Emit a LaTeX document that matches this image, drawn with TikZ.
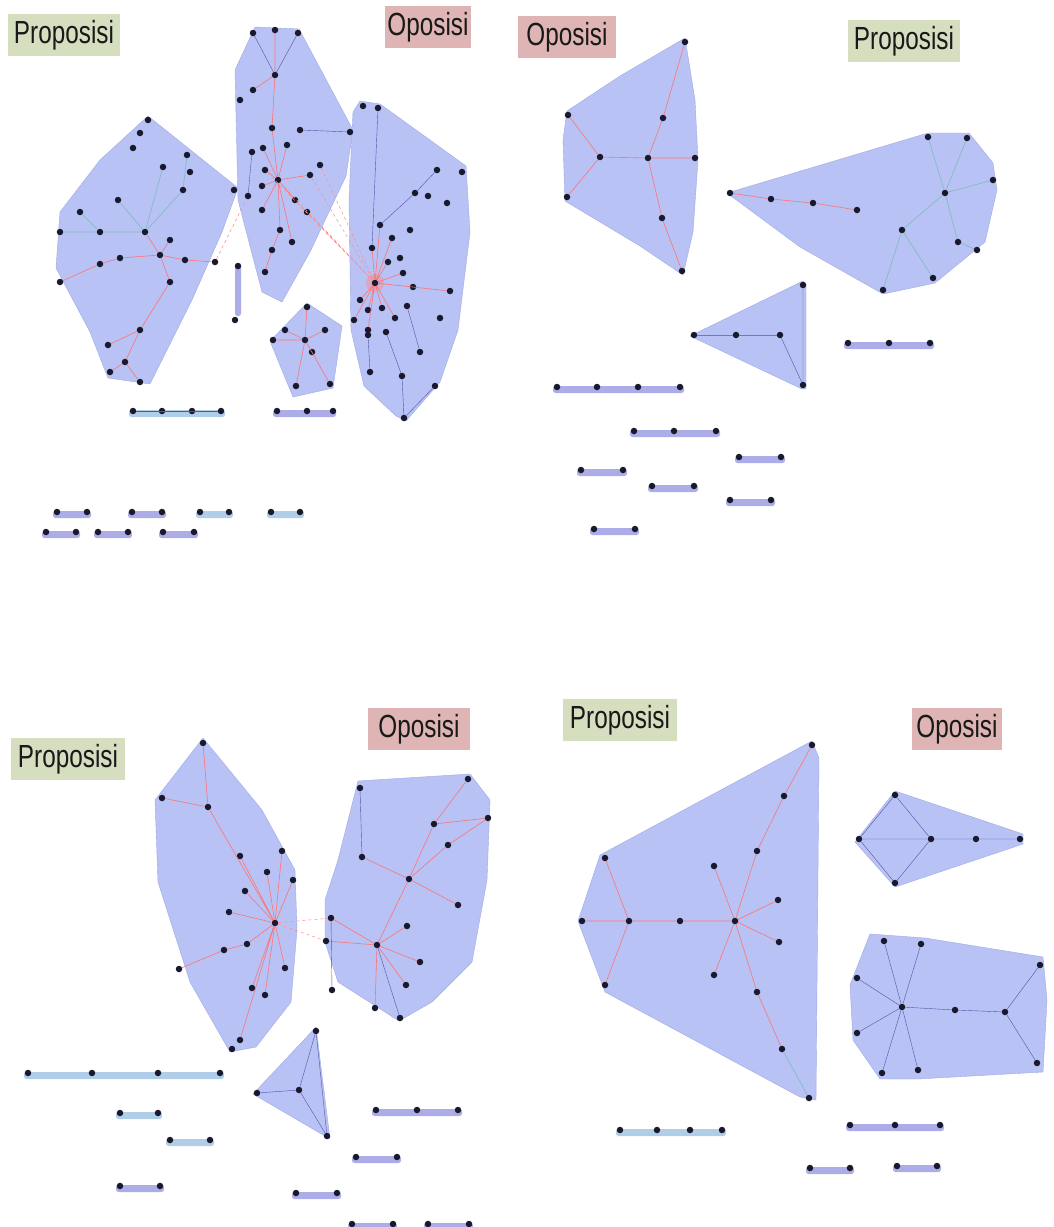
\documentclass[tikz,border=0pt]{standalone}
\usepackage{fontspec}
\setmainfont{Liberation Sans}
\usetikzlibrary{calc}
\definecolor{hullc}{RGB}{184,194,244}
\definecolor{hulld}{RGB}{160,170,230}
\definecolor{barP}{RGB}{172,172,232}
\definecolor{barC}{RGB}{176,206,232}
\definecolor{tgreen}{RGB}{214,222,192}
\definecolor{tpink}{RGB}{222,180,180}
\definecolor{dotc}{RGB}{25,25,45}
\newcommand\nd[3]{\node[dot] (#1) at (#2,#3) {};}
\newcommand\ttl[4]{\node[titlebox,fill=#4,minimum width=#3] (#1) at #2 {\scalebox{0.76}[1]{\fontsize{32}{32}\selectfont #1}};}
\begin{document}
\begin{tikzpicture}[x=1pt,y=-1pt,
  dot/.style={circle,fill=dotc,inner sep=0pt,minimum size=6.5pt},
  hull/.style={fill=hullc,draw=hulld,line width=0.4pt,line join=round},
  ered/.style={draw=red!55!white,line width=0.6pt},
  edash/.style={draw=red!45!white,line width=0.5pt,dashed},
  egreen/.style={draw=teal!50!white,line width=0.7pt},
  egray/.style={draw=blue!35!gray,line width=0.4pt},
  titlebox/.style={inner sep=0pt,minimum height=42pt,text=black!90},
  pbar/.style={fill=barP,rounded corners=2.5pt},
  cbar/.style={fill=barC,rounded corners=2.5pt}]
\useasboundingbox (0,0) rectangle (1054,1227);
\fill[white] (0,0) rectangle (1054,1227);

% ================= Quadrant 1 =================
\fill[hull] (148,116) -- (238,188) -- (222,232) -- (192,300) -- (150,384) -- (108,378) -- (90,332) -- (56,268) -- (60,212) -- (100,160) -- cycle;
\fill[hull] (255,27) -- (299,29) -- (353,130) -- (346,176) -- (310,252) -- (282,302) -- (262,292) -- (238,200) -- (235,70) -- cycle;
\fill[hull] (360,101) -- (380,104) -- (466,166) -- (470,232) -- (458,330) -- (440,382) -- (406,421) -- (396,416) -- (364,386) -- (351,330) -- (349,200) -- (353,112) -- cycle;
\fill[hull] (307,303) -- (342,326) -- (333,388) -- (293,397) -- (270,341) -- cycle;
\fill[pbar] (235,264) rectangle (241,316);

% hull A nodes
\nd{a1}{148}{120}\nd{a2}{140}{133}\nd{a3}{133}{148}\nd{a4}{187}{155}
\nd{a5}{163}{167}\nd{a6}{190}{172}\nd{a7}{183}{190}\nd{a8}{234}{190}
\nd{a9}{118}{200}\nd{a10}{80}{212}\nd{a11}{60}{232}\nd{a12}{100}{232}
\nd{a13}{145}{232}\nd{a14}{170}{240}\nd{a15}{160}{255}\nd{a16}{185}{260}
\nd{a17}{215}{262}\nd{a18}{120}{258}\nd{a19}{100}{264}\nd{a20}{60}{282}
\nd{a21}{170}{282}\nd{a22}{140}{330}\nd{a23}{108}{345}\nd{a24}{125}{362}
\nd{a25}{110}{372}\nd{a26}{140}{382}
\draw[egreen] (a4)--(a7) (a7)--(a13) (a9)--(a13) (a13)--(a12) (a12)--(a11) (a5)--(a13) (a10)--(a12);
\draw[ered] (a13)--(a15) (a15)--(a16) (a16)--(a17) (a15)--(a21) (a21)--(a22) (a22)--(a23) (a22)--(a24) (a24)--(a25) (a24)--(a26) (a15)--(a18) (a18)--(a19) (a19)--(a20) (a14)--(a15);

% hull B nodes
\nd{b1}{275}{30}\nd{b2}{253}{33}\nd{b3}{298}{33}\nd{b4}{275}{75}
\nd{b5}{253}{90}\nd{b6}{240}{100}\nd{b7}{300}{130}\nd{b8}{272}{128}
\nd{b9}{263}{148}\nd{b10}{252}{152}\nd{b11}{287}{145}\nd{b12}{350}{132}
\nd{b13}{265}{170}\nd{b14}{278}{180}\nd{b15}{310}{175}\nd{b16}{320}{165}
\nd{b17}{262}{186}\nd{b18}{248}{196}\nd{b19}{262}{210}\nd{b20}{295}{200}
\nd{b21}{307}{212}\nd{b22}{280}{230}\nd{b23}{272}{250}\nd{b24}{265}{272}
\nd{b25}{292}{242}
\draw[ered] (b1)--(b4) (b4)--(b5) (b4)--(b8) (b8)--(b14) (b14)--(b13) (b14)--(b11) (b14)--(b15) (b14)--(b17) (b14)--(b19) (b14)--(b22) (b14)--(b25) (b22)--(b23) (b23)--(b24) (b14)--(b20) (b14)--(b9);
\draw[egray] (b2)--(b4) (b3)--(b4) (b7)--(b12) (b10)--(b18);

% hull C nodes
\nd{c1}{363}{106}\nd{c2}{378}{108}\nd{c3}{437}{170}\nd{c4}{462}{172}
\nd{c5}{415}{193}\nd{c6}{428}{196}\nd{c7}{447}{203}\nd{c8}{380}{225}
\nd{c9}{392}{238}\nd{c10}{410}{230}\nd{c11}{372}{248}\nd{c12}{388}{262}
\nd{c13}{400}{258}\fill[red!45,opacity=0.5] (375,283) circle (9);
\nd{c14}{375}{283}\nd{c15}{403}{273}\nd{c16}{413}{287}
\nd{c17}{450}{291}\nd{c18}{360}{300}\nd{c19}{368}{310}\nd{c20}{382}{308}
\nd{c21}{354}{320}\nd{c22}{368}{330}\nd{c23}{395}{318}\nd{c24}{407}{306}
\nd{c25}{440}{318}\nd{c26}{368}{335}\nd{c27}{386}{332}\nd{c28}{420}{352}
\nd{c29}{370}{372}\nd{c30}{402}{376}\nd{c31}{435}{386}\nd{c32}{404}{418}
\draw[ered] (c14)--(c8) (c14)--(c9) (c14)--(c11) (c14)--(c12) (c14)--(c15) (c14)--(c16) (c14)--(c18) (c14)--(c19) (c14)--(c21) (c14)--(c22) (c14)--(c23) (c14)--(c17) (c14)--(c20);
\draw[egray] (c2)--(c11) (c5)--(c8) (c26)--(c29) (c27)--(c30) (c30)--(c32) (c31)--(c32) (c3)--(c5) (c24)--(c28);
\draw[edash] (b14)--(c14) (b15)--(c14) (b16)--(c14) (b20)--(c14) (b21)--(c14) (b13)--(c14);
\draw[edash] (a17)--(b18);

% hull D nodes
\nd{d1}{307}{307}\nd{d2}{285}{330}\nd{d3}{305}{340}\nd{d4}{325}{330}
\nd{d5}{273}{340}\nd{d6}{312}{352}\nd{d7}{296}{386}\nd{d8}{330}{384}
\draw[ered] (d3)--(d1) (d3)--(d2) (d3)--(d4) (d3)--(d5) (d3)--(d6) (d3)--(d7) (d3)--(d8);
\nd{v1}{238}{266}\nd{v2}{235}{320}

% bars Q1
\fill[cbar] (129,410) rectangle (225,417);
\nd{q1}{133}{411}\nd{q2}{162}{411}\nd{q3}{192}{411}\nd{q4}{221}{411}
\draw[egray] (q1)--(q4);
\fill[pbar] (273,410) rectangle (336,417);
\nd{q5}{277}{411}\nd{q6}{307}{411}\nd{q7}{333}{411}
\fill[pbar] (53,511) rectangle (91,518);\nd{r1}{57}{512}\nd{r2}{87}{512}
\fill[pbar] (128,511) rectangle (166,518);\nd{r3}{132}{512}\nd{r4}{162}{512}
\fill[cbar] (196,511) rectangle (233,518);\nd{r5}{200}{512}\nd{r6}{229}{512}
\fill[cbar] (267,511) rectangle (304,518);\nd{r7}{271}{512}\nd{r8}{300}{512}
\fill[pbar] (42,531) rectangle (80,538);\nd{r9}{46}{532}\nd{r10}{76}{532}
\fill[pbar] (94,531) rectangle (132,538);\nd{r11}{98}{532}\nd{r12}{128}{532}
\fill[pbar] (159,531) rectangle (198,538);\nd{r13}{163}{532}\nd{r14}{194}{532}

\ttl{Proposisi}{(64,35)}{112pt}{tgreen}
\ttl{Oposisi}{(428,27)}{86pt}{tpink}

% ================= Quadrant 2 =================
\fill[hull] (685,38) -- (695,100) -- (698,160) -- (693,232) -- (683,275) -- (640,246) -- (565,201) -- (563,140) -- (567,111) -- (620,76) -- cycle;
\fill[hull] (727,193) -- (928,133) -- (969,133) -- (993,163) -- (997,190) -- (985,242) -- (935,283) -- (883,294) -- (800,247) -- cycle;
\fill[hull] (803,281) -- (806,285) -- (806,389) -- (802,389) -- (690,336) -- cycle;
\nd{e1}{685}{42}\nd{e2}{568}{115}\nd{e3}{663}{118}\nd{e4}{600}{157}
\nd{e5}{648}{158}\nd{e6}{695}{158}\nd{e7}{567}{197}\nd{e8}{662}{218}\nd{e9}{682}{271}
\draw[ered] (e1)--(e3) (e3)--(e5) (e5)--(e8) (e8)--(e9) (e4)--(e5) (e5)--(e6) (e2)--(e4) (e4)--(e7);
\nd{f1}{730}{193}\nd{f2}{771}{199}\nd{f3}{813}{203}\nd{f4}{857}{210}
\nd{f5}{902}{230}\nd{f6}{928}{137}\nd{f7}{967}{138}\nd{f8}{993}{180}
\nd{f9}{945}{193}\nd{f10}{958}{242}\nd{f11}{977}{250}\nd{f12}{933}{278}\nd{f13}{883}{290}
\draw[ered] (f1)--(f2) (f2)--(f3) (f3)--(f4);
\draw[egreen] (f6)--(f9) (f7)--(f9) (f9)--(f8) (f9)--(f10) (f5)--(f13) (f5)--(f12) (f9)--(f5) (f10)--(f11);
\nd{g1}{803}{285}\nd{g2}{694}{335}\nd{g3}{736}{335}\nd{g4}{780}{335}\nd{g5}{803}{385}
\draw[egreen,line width=1pt,draw=green!60!teal] (g2)--(g3) (g3)--(g4);
\draw[egray] (g1)--(g5) (g4)--(g5);
% bars Q2
\fill[pbar] (553,386) rectangle (684,393);
\nd{s1}{557}{387}\nd{s2}{597}{387}\nd{s3}{638}{387}\nd{s4}{680}{387}
\fill[pbar] (844,342) rectangle (934,349);
\nd{s5}{848}{343}\nd{s6}{889}{343}\nd{s7}{930}{343}
\fill[pbar] (630,430) rectangle (720,437);
\nd{s8}{634}{431}\nd{s9}{674}{431}\nd{s10}{716}{431}
\fill[pbar] (735,456) rectangle (785,463);\nd{s11}{739}{457}\nd{s12}{781}{457}
\fill[pbar] (577,469) rectangle (627,476);\nd{s13}{581}{470}\nd{s14}{623}{470}
\fill[pbar] (648,485) rectangle (698,492);\nd{s15}{652}{486}\nd{s16}{694}{486}
\fill[pbar] (726,499) rectangle (775,506);\nd{s17}{730}{500}\nd{s18}{771}{500}
\fill[pbar] (590,528) rectangle (639,535);\nd{s19}{594}{529}\nd{s20}{635}{529}

\ttl{Oposisi}{(567,37)}{98pt}{tpink}
\ttl{Proposisi}{(904,41)}{112pt}{tgreen}

% ================= Quadrant 3 =================
\fill[hull] (203,738) -- (262,810) -- (295,870) -- (297,930) -- (291,1002) -- (256,1047) -- (230,1052) -- (190,982) -- (158,882) -- (155,800) -- cycle;
\fill[hull] (358,781) -- (470,774) -- (490,800) -- (487,880) -- (472,962) -- (432,1002) -- (399,1021) -- (338,982) -- (325,942) -- (325,900) -- (338,860) -- cycle;
\fill[hull] (316,1027) -- (330,1139) -- (253,1094) -- cycle;
\nd{h1}{203}{743}\nd{h2}{162}{798}\nd{h3}{208}{807}\nd{h4}{240}{856}
\nd{h5}{282}{851}\nd{h6}{267}{872}\nd{h7}{293}{880}\nd{h8}{245}{891}
\nd{h9}{229}{912}\nd{h10}{275}{923}\nd{h11}{224}{950}\nd{h12}{247}{944}
\nd{h13}{179}{969}\nd{h14}{285}{968}\nd{h15}{252}{988}\nd{h16}{265}{995}
\nd{h17}{240}{1040}\nd{h18}{232}{1049}
\draw[ered] (h1)--(h3) (h2)--(h3) (h3)--(h10) (h10)--(h4) (h10)--(h5) (h10)--(h6) (h10)--(h7) (h10)--(h8) (h10)--(h9) (h10)--(h12) (h10)--(h14) (h10)--(h15) (h10)--(h16) (h10)--(h17) (h11)--(h12) (h11)--(h13);
\nd{i1}{360}{788}\nd{i2}{468}{779}\nd{i3}{488}{818}\nd{i4}{434}{824}
\nd{i5}{448}{845}\nd{i6}{362}{857}\nd{i7}{409}{879}\nd{i8}{458}{905}
\nd{i9}{331}{918}\nd{i10}{326}{941}\nd{i11}{407}{926}\nd{i12}{377}{945}
\nd{i13}{420}{962}\nd{i14}{406}{985}\nd{i15}{375}{1008}\nd{i16}{400}{1018}\nd{i17}{332}{990}
\draw[ered] (i6)--(i7) (i7)--(i4) (i2)--(i4) (i7)--(i5) (i5)--(i3) (i7)--(i8) (i7)--(i12) (i9)--(i12) (i10)--(i12) (i12)--(i13) (i12)--(i14) (i12)--(i15) (i11)--(i12) (i4)--(i3);
\draw[egray] (i1)--(i6) (i9)--(i17) (i12)--(i16);
\draw[edash] (h10)--(i9) (h10)--(i10);
\nd{j1}{316}{1031}\nd{j2}{299}{1090}\nd{j3}{257}{1093}\nd{j4}{327}{1136}
\draw[egray] (j1)--(j4) (j2)--(j4) (j2)--(j3) (j1)--(j2);
% bars Q3
\fill[cbar] (24,1072) rectangle (224,1079);
\nd{t1}{28}{1073}\nd{t2}{92}{1073}\nd{t3}{158}{1073}\nd{t4}{220}{1073}
\fill[cbar] (116,1112) rectangle (162,1119);\nd{t5}{120}{1113}\nd{t6}{158}{1113}
\fill[cbar] (166,1139) rectangle (214,1146);\nd{t7}{170}{1140}\nd{t8}{210}{1140}
\fill[pbar] (116,1185) rectangle (164,1192);\nd{t9}{120}{1186}\nd{t10}{160}{1186}
\fill[pbar] (372,1109) rectangle (462,1116);
\nd{t11}{376}{1110}\nd{t12}{417}{1110}\nd{t13}{458}{1110}
\fill[pbar] (352,1156) rectangle (401,1163);\nd{t14}{356}{1157}\nd{t15}{397}{1157}
\fill[pbar] (292,1192) rectangle (341,1199);\nd{t16}{296}{1193}\nd{t17}{337}{1193}
\fill[pbar] (348,1223) rectangle (397,1230);\nd{t18}{352}{1224}\nd{t19}{393}{1224}
\fill[pbar] (424,1223) rectangle (473,1230);\nd{t20}{428}{1224}\nd{t21}{469}{1224}

\ttl{Proposisi}{(68,759)}{114pt}{tgreen}
\ttl{Oposisi}{(419,729)}{102pt}{tpink}

% ================= Quadrant 4 =================
\fill[hull] (812,741) -- (819,758) -- (816,1100) -- (800,1097) -- (605,992) -- (578,921) -- (600,855) -- cycle;
\fill[hull] (895,791) -- (1023,834) -- (1023,844) -- (895,887) -- (855,842) -- cycle;
\fill[hull] (870,934) -- (925,938) -- (1043,957) -- (1047,1000) -- (1043,1072) -- (918,1079) -- (880,1079) -- (853,1040) -- (850,985) -- cycle;
\nd{k1}{812}{745}\nd{k2}{784}{796}\nd{k3}{757}{851}\nd{k4}{714}{866}
\nd{k5}{778}{900}\nd{k6}{735}{921}\nd{k7}{680}{921}\nd{k8}{629}{921}
\nd{k9}{582}{921}\nd{k10}{605}{858}\nd{k11}{605}{985}\nd{k12}{779}{942}
\nd{k13}{714}{975}\nd{k14}{757}{992}\nd{k15}{782}{1049}\nd{k16}{809}{1098}
\draw[ered] (k1)--(k2) (k2)--(k3) (k3)--(k6) (k4)--(k6) (k5)--(k6) (k6)--(k12) (k6)--(k13) (k6)--(k14) (k14)--(k15) (k6)--(k7) (k7)--(k8) (k8)--(k9) (k10)--(k8) (k8)--(k11);
\draw[egreen] (k15)--(k16);
\nd{l1}{895}{795}\nd{l2}{859}{839}\nd{l3}{931}{839}\nd{l4}{976}{839}
\nd{l5}{1020}{839}\nd{l6}{895}{883}
\draw[egray] (l2)--(l3) (l3)--(l4) (l4)--(l5) (l1)--(l3) (l2)--(l6) (l3)--(l6) (l1)--(l2);
\nd{m1}{884}{941}\nd{m2}{921}{944}\nd{m3}{857}{978}\nd{m4}{902}{1007}
\nd{m5}{955}{1010}\nd{m6}{1005}{1012}\nd{m7}{1040}{965}\nd{m8}{1037}{1063}
\nd{m9}{857}{1033}\nd{m10}{882}{1073}\nd{m11}{918}{1070}
\draw[egray] (m4)--(m1) (m4)--(m2) (m4)--(m3) (m4)--(m5) (m4)--(m9) (m4)--(m10) (m4)--(m11) (m5)--(m6) (m6)--(m7) (m6)--(m8);
% bars Q4
\fill[cbar] (616,1129) rectangle (726,1136);
\nd{u1}{620}{1130}\nd{u2}{657}{1130}\nd{u3}{690}{1130}\nd{u4}{722}{1130}
\fill[pbar] (846,1124) rectangle (944,1131);
\nd{u5}{850}{1125}\nd{u6}{895}{1125}\nd{u7}{940}{1125}
\fill[pbar] (806,1167) rectangle (854,1174);\nd{u8}{810}{1168}\nd{u9}{850}{1168}
\fill[pbar] (893,1165) rectangle (941,1172);\nd{u10}{897}{1166}\nd{u11}{937}{1166}

\ttl{Proposisi}{(620,720)}{114pt}{tgreen}
\ttl{Oposisi}{(957,729)}{90pt}{tpink}
\end{tikzpicture}
\end{document}
